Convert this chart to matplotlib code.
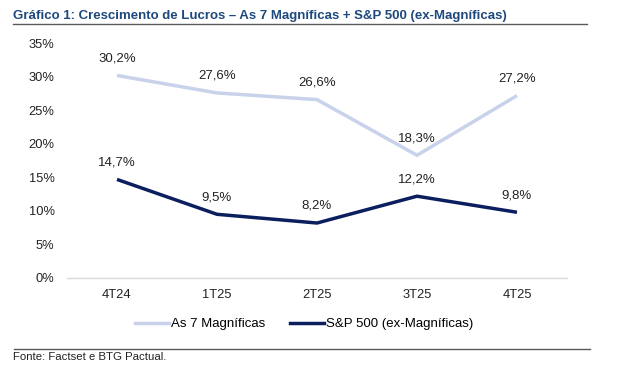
import matplotlib
matplotlib.use("Agg")
import matplotlib.pyplot as plt
from matplotlib.lines import Line2D

plt.rcParams['font.family'] = ['Liberation Sans', 'DejaVu Sans']

categories = ["4T24", "1T25", "2T25", "3T25", "4T25"]
mag7 = [30.2, 27.6, 26.6, 18.3, 27.2]
sp500_ex = [14.7, 9.5, 8.2, 12.2, 9.8]
series_names = ["As 7 Magníficas", "S&P 500 (ex-Magníficas)"]
yticks = [0, 5, 10, 15, 20, 25, 30, 35]

c_light = "#C8D2EA"
c_dark = "#0B1F5E"
c_title = "#1F497D"
c_text = "#222222"

W, H = 624, 373
fig = plt.figure(figsize=(W/100, H/100), dpi=100)

def fx(px): return px / W
def fy(py): return 1 - py / H

ax = fig.add_axes([fx(67), fy(278), fx(567) - fx(67), fy(43.3) - fy(278)])
x = list(range(len(categories)))
ax.plot(x, mag7, color=c_light, lw=2.5, solid_joinstyle='round', solid_capstyle='butt')
ax.plot(x, sp500_ex, color=c_dark, lw=2.5, solid_joinstyle='round', solid_capstyle='butt')
for series in (mag7, sp500_ex):
    for xi, v in zip(x, series):
        ax.annotate(f"{v:.1f}%".replace(".", ","), (xi, v), xytext=(0, 8), textcoords="offset points",
                    ha="center", va="bottom", fontsize=9.5, color=c_text)

ax.set_xlim(-0.5, len(categories) - 0.5)
ax.set_ylim(0, 35)
ax.set_yticks(yticks)
ax.set_yticklabels([f"{t}%" for t in yticks], fontsize=9.3, color=c_text)
ax.set_xticks(x)
ax.set_xticklabels(categories, fontsize=9.3, color=c_text)
ax.tick_params(axis='x', length=0, pad=8)
ax.tick_params(axis='y', length=0, pad=9)
for name, s in ax.spines.items():
    if name == 'bottom':
        s.set_color("#D9D9D9")
        s.set_linewidth(1)
    else:
        s.set_visible(False)

fig.text(fx(13), fy(16), "Gráfico 1: Crescimento de Lucros – As 7 Magníficas + S&P 500 (ex-Magníficas)",
         fontsize=9.5, fontweight="bold", color=c_title, va="center", ha="left")
fig.add_artist(Line2D([fx(13), fx(587)], [fy(24), fy(24)], color="#595959", lw=1))
fig.add_artist(Line2D([fx(14), fx(590)], [fy(349), fy(349)], color="#595959", lw=1))
fig.text(fx(13), fy(357), "Fonte: Factset e BTG Pactual.", fontsize=8.2, color=c_text, va="center", ha="left")

handles = [Line2D([], [], color=c_light, lw=2.5), Line2D([], [], color=c_dark, lw=2.5)]
fig.legend(handles, series_names, loc="center", bbox_to_anchor=(fx(304), fy(324)), ncol=2,
           frameon=False, fontsize=9.5, handlelength=2.6, handletextpad=0.1, columnspacing=1.9)

fig.savefig("out.png", dpi=100)
